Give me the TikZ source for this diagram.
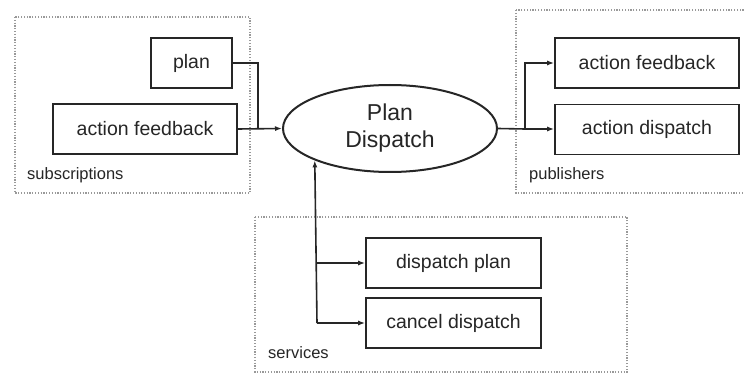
\documentclass[tikz,border=0pt]{standalone}
\usepackage{fontspec}
\setmainfont{Liberation Sans}
\usetikzlibrary{arrows.meta,shapes.geometric}
\begin{document}
\begin{tikzpicture}[x=1pt,y=-1pt,
  group/.style={draw=gray!80, dash pattern=on 1.2pt off 1.6pt, line width=1.4pt},
  topic/.style={draw=black!85, line width=1.6pt, minimum height=50pt,
    inner sep=0pt, text=black!85, font=\fontsize{19.5}{22}\selectfont},
  link/.style={line width=1.6pt, draw=black!85},
  tip/.style={link, -{Latex[length=7pt,width=5pt]}},
  grouplabel/.style={anchor=base west, inner sep=0pt, text=black!85,
    font=\fontsize{16.5}{19}\selectfont}]

\useasboundingbox (0,0) rectangle (744,374);
\fill[white] (0,0) rectangle (744,374);

% dotted groups
\draw[group] (15,17) rectangle (250,193);
\draw[group] (516,10) rectangle (752,193);
\draw[group] (255,217) rectangle (627,372);

\node[grouplabel] (subl) at (27,180) {subscriptions};
\node[grouplabel] (publ) at (529,180) {publishers};
\node[grouplabel] (srvl) at (268,358) {services};

% central node
\node[ellipse, draw=black!85, line width=2pt, minimum width=214pt,
  minimum height=87pt, inner sep=0pt, align=center, text=black!85,
  font=\fontsize{23}{27}\selectfont] (pd) at (390,128.5) {Plan\\Dispatch};

% subscriptions
\node[topic, minimum width=81pt] (plan) at (191.5,63) {plan};
\node[topic, minimum width=184pt] (subaf) at (145,129) {action feedback};

% publishers
\node[topic, minimum width=184pt] (pubaf) at (647,63) {action feedback};
\node[topic, minimum width=184pt] (pubad) at (647,129.5) {action dispatch};

% services
\node[topic, minimum width=175pt] (dp) at (453.5,263) {dispatch plan};
\node[topic, minimum width=175pt] (cd) at (453.5,323) {cancel dispatch};

% junctions
\coordinate (j1) at (258,129);
\coordinate (j2) at (525,129);
\coordinate (j3) at (317,323);

% connectors
\draw[link] (plan.east) -| (j1);
\draw[tip] (subaf.east) -- (pd.west);

\draw[link] (pd.east) -- (j2);
\draw[tip] (j2) |- (pubaf.west);
\draw[tip] (j2) -- (j2 -| pubad.west);

\draw[tip] (j3) -- (pd.203.5);
\draw[tip] (j3 |- dp.west) -- (dp.west);
\draw[tip] (j3) -- (cd.west);
\end{tikzpicture}
\end{document}
